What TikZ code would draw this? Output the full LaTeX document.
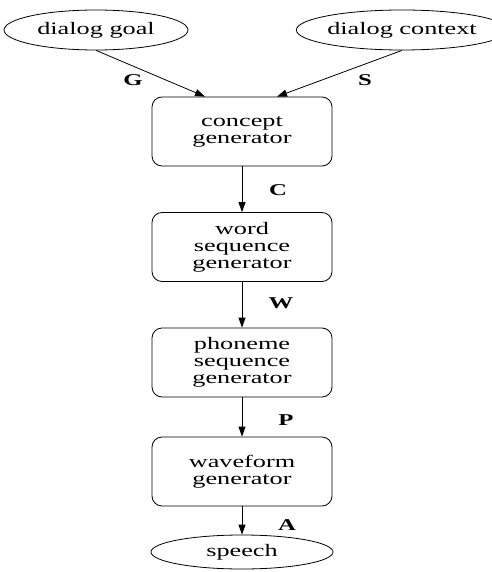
\documentclass[tikz,border=0pt]{standalone}
\usepackage{fontspec}
\setmainfont{Liberation Serif}
\newfontfamily\tfont[FakeStretch=1.5]{Liberation Serif}
\usetikzlibrary{shapes.geometric,arrows.meta}
\tikzset{
  txt/.style={font=\tfont\fontsize{17.5}{17}\selectfont, align=center},
  ell/.style={txt, draw, ellipse, inner sep=0pt, line width=0.8pt},
  gen/.style={txt, draw, rectangle, rounded corners=10pt, minimum width=180pt, minimum height=69pt, inner sep=0pt, line width=0.8pt},
  lab/.style={font=\tfont\bfseries\fontsize{16.5}{17}\selectfont, inner sep=0pt},
  conn/.style={line width=0.8pt, -{Triangle[length=10pt,width=7pt]}}
}
\begin{document}
\begin{tikzpicture}[x=1pt,y=-1pt]
\useasboundingbox (0,0) rectangle (491,572);
\node[ell, minimum width=184pt, minimum height=40pt] (goal) at (96,30) {dialog goal};
\node[ell, minimum width=176pt, minimum height=40pt] (ctx) at (402,30) {dialog context};
\node[gen] (concept) at (242,131.5) {concept\\generator};
\node[gen] (word) at (242,247) {word\\sequence\\generator};
\node[gen] (phon) at (242,362.5) {phoneme\\sequence\\generator};
\node[gen] (wave) at (242,471.5) {waveform\\generator};
\node[ell, minimum width=182pt, minimum height=34pt] (speech) at (242,552) {speech};
\draw[conn] (goal.south) -- ([xshift=-37pt]concept.north);
\draw[conn] (ctx.south) -- ([xshift=35pt]concept.north);
\draw[conn] (concept) -- (word);
\draw[conn] (word) -- (phon);
\draw[conn] (phon) -- (wave);
\draw[conn] (wave) -- (speech);
\node[lab] (lG) at (133,80) {G};
\node[lab] (lS) at (365,80) {S};
\node[lab] (lC) at (278,190) {C};
\node[lab] (lW) at (281,303) {W};
\node[lab] (lP) at (286,420) {P};
\node[lab] (lA) at (287,525) {A};
\end{tikzpicture}
\end{document}
